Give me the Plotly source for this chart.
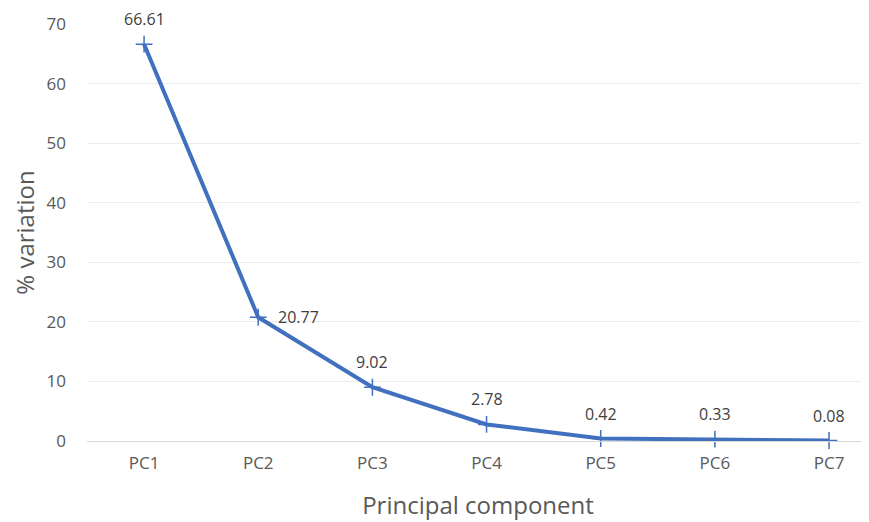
import plotly.graph_objects as go

categories = ["PC1", "PC2", "PC3", "PC4", "PC5", "PC6", "PC7"]
variation = [66.61, 20.77, 9.02, 2.78, 0.42, 0.33, 0.08]
labels = ["66.61", "20.77", "9.02", "2.78", "0.42", "0.33", "0.08"]
label_side = ["above", "right", "above", "above", "above", "above", "above"]

line_color = "#4170bf"
font_family = "Open Sans, Liberation Sans, sans-serif"

xs = list(range(len(categories)))

fig = go.Figure()
fig.add_trace(go.Scatter(
    x=xs,
    y=variation,
    mode="lines+markers",
    line=dict(color=line_color, width=4),
    marker=dict(symbol="cross-thin", size=12, line=dict(color=line_color, width=1.5)),
    cliponaxis=False,
    showlegend=False,
))

for xi, yi, lab, side in zip(xs, variation, labels, label_side):
    if side == "right":
        fig.add_annotation(x=xi, y=yi, text=lab, showarrow=False,
                           xanchor="left", yanchor="middle", xshift=18, yshift=0,
                           font=dict(family=font_family, size=16, color="#404040"))
    else:
        fig.add_annotation(x=xi, y=yi, text=lab, showarrow=False,
                           xanchor="center", yanchor="bottom", xshift=0, yshift=12,
                           font=dict(family=font_family, size=16, color="#404040"))

fig.update_layout(
    width=861, height=514,
    margin=dict(l=79, r=0, t=16, b=81),
    paper_bgcolor="white", plot_bgcolor="white",
    font=dict(family=font_family, color="#595959"),
    xaxis=dict(
        range=[-0.5, 6.35],
        tickmode="array",
        tickvals=xs,
        ticktext=categories,
        showgrid=False, zeroline=False,
        showline=True, linecolor="#d9d9d9", linewidth=1,
        tickfont=dict(size=17, color="#595959"),
        title=dict(text="Principal component", font=dict(size=24, color="#595959"), standoff=23),
        ticks="", ticklabelstandoff=7,
    ),
    yaxis=dict(
        range=[0, 70],
        tickvals=[0, 10, 20, 30, 40, 50, 60, 70],
        showgrid=True, gridcolor="#ececec", gridwidth=1,
        zeroline=False, showline=False, automargin=False,
        tickfont=dict(size=17, color="#595959"),
        title=dict(text="% variation", font=dict(size=24, color="#595959"), standoff=28),
        ticks="", ticklabelstandoff=20,
    ),
)

fig.write_html("out.html")
